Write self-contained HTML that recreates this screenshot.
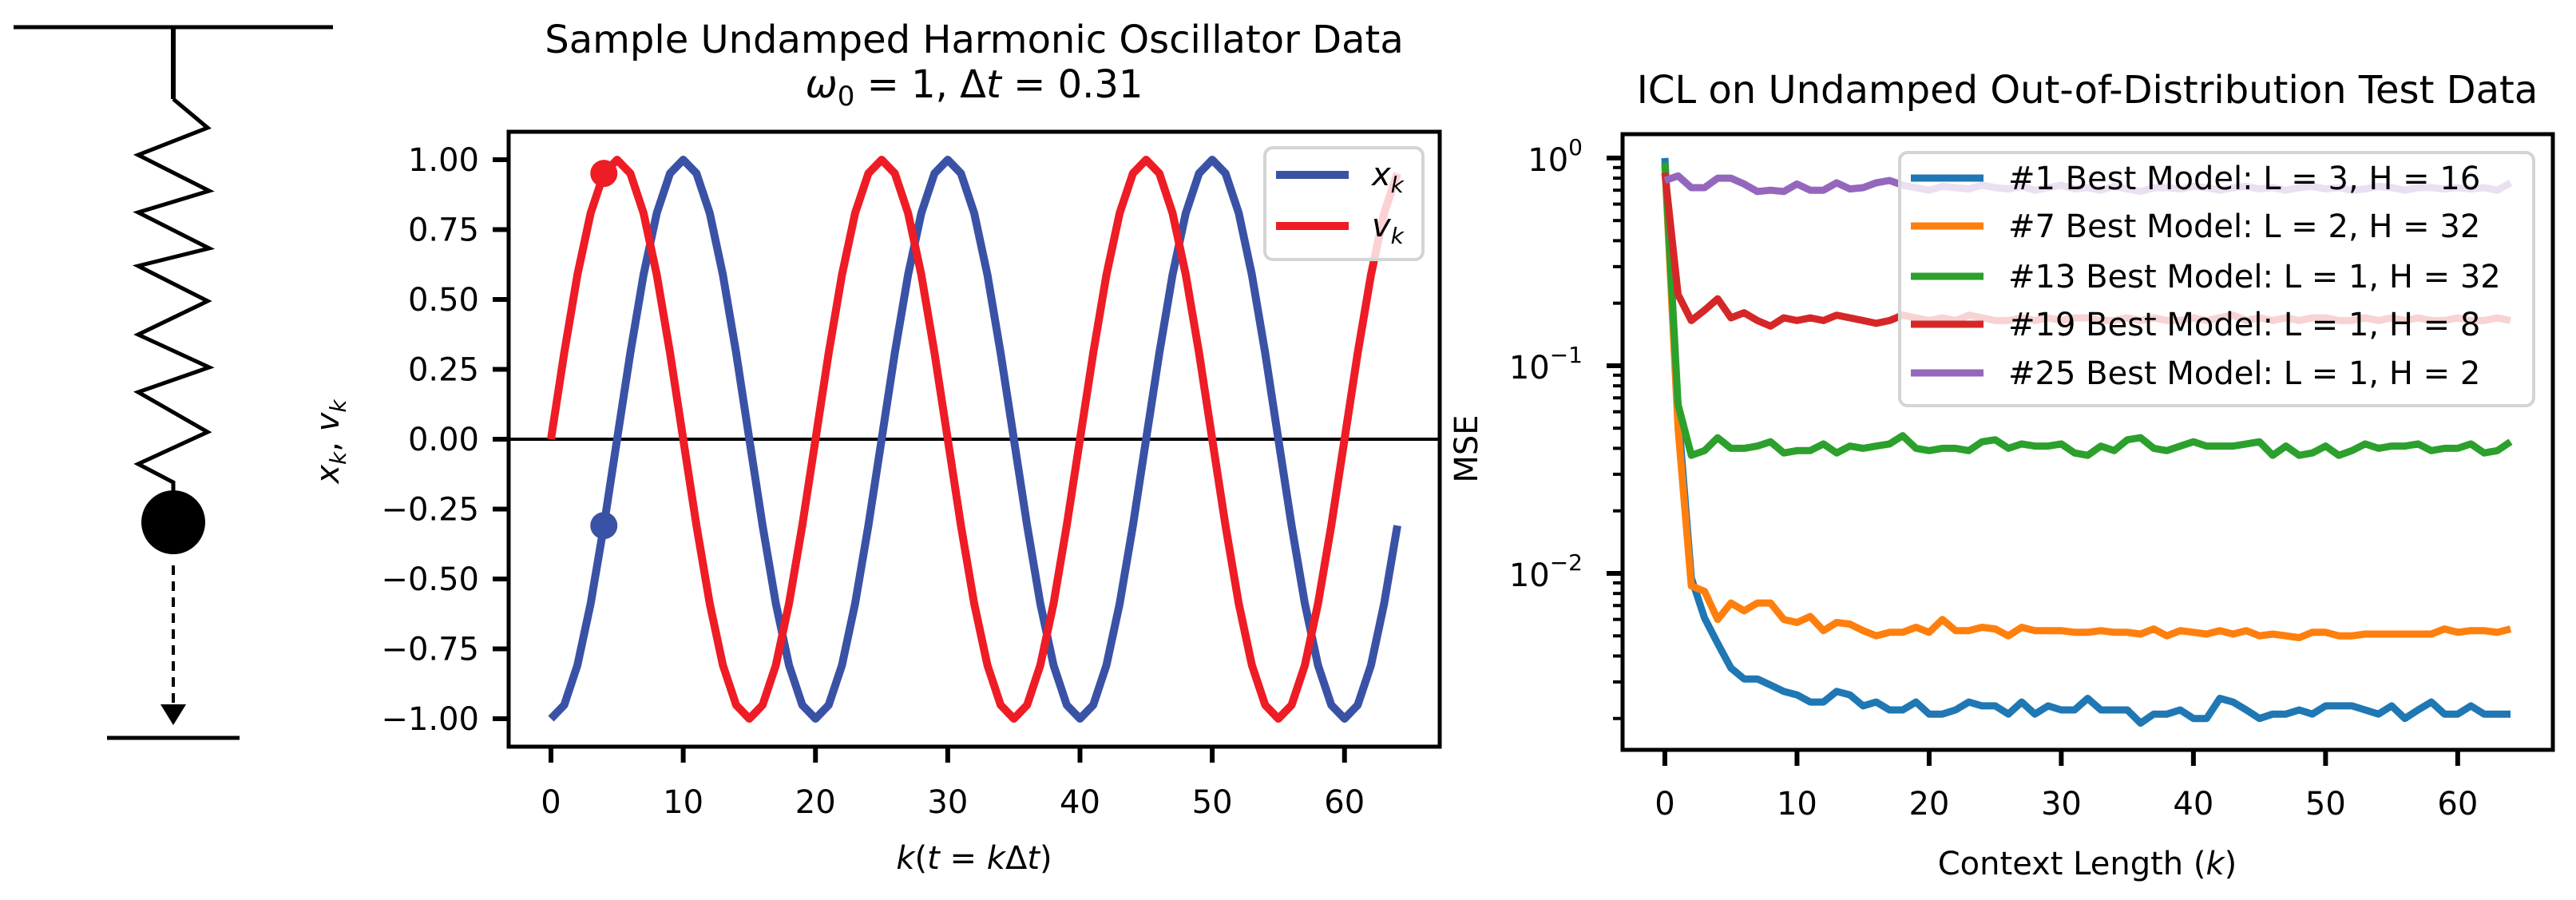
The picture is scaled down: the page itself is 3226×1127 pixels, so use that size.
<!DOCTYPE html>
<html><head><meta charset="utf-8">
<style>
html,body{margin:0;padding:0;background:#fff;}
svg{display:block;font-family:"DejaVu Sans","Liberation Sans",sans-serif;}
</style></head>
<body>
<svg id="fig" xmlns="http://www.w3.org/2000/svg" width="3226" height="1127" viewBox="0 0 3226 1127">
  <g id="diagram" fill="none" stroke="#000">
    <line x1="17" y1="34" x2="417" y2="34" stroke-width="5"/>
    <line x1="217" y1="34" x2="217" y2="124" stroke-width="6"/>
    <polyline stroke-width="5" points="217,124 260,160 173,194 262,239 173,266 262,311 173,333 260,377 173,419 262,460 173,491 260,541 173,581 217,604 217,620"/>
    <circle cx="217" cy="654" r="40" fill="#000" stroke="none"/>
    <line x1="217" y1="708" x2="217" y2="886" stroke-width="4" stroke-dasharray="12,8"/>
    <polygon points="201,882 233,882 217,908" fill="#000" stroke="none"/>
    <line x1="134" y1="924" x2="300" y2="924" stroke-width="5"/>
  </g>
  <g id="mid"></g>
  <g id="right"></g>
</svg>
<script>
// ---- Oscillator data ----
const oscK = [];
for (let i = 0; i <= 64; i++) oscK.push(i);
const oscX = [-1,-0.951,-0.809,-0.588,-0.309,0,0.309,0.588,0.809,0.951,1,0.951,0.809,0.588,0.309,0,-0.309,-0.588,-0.809,-0.951,
 -1,-0.951,-0.809,-0.588,-0.309,0,0.309,0.588,0.809,0.951,1,0.951,0.809,0.588,0.309,0,-0.309,-0.588,-0.809,-0.951,
 -1,-0.951,-0.809,-0.588,-0.309,0,0.309,0.588,0.809,0.951,1,0.951,0.809,0.588,0.309,0,-0.309,-0.588,-0.809,-0.951,
 -1,-0.951,-0.809,-0.588,-0.309];
const oscV = [0,0.309,0.588,0.809,0.951,1,0.951,0.809,0.588,0.309,0,-0.309,-0.588,-0.809,-0.951,-1,-0.951,-0.809,-0.588,-0.309,
 0,0.309,0.588,0.809,0.951,1,0.951,0.809,0.588,0.309,0,-0.309,-0.588,-0.809,-0.951,-1,-0.951,-0.809,-0.588,-0.309,
 0,0.309,0.588,0.809,0.951,1,0.951,0.809,0.588,0.309,0,-0.309,-0.588,-0.809,-0.951,-1,-0.951,-0.809,-0.588,-0.309,
 0,0.309,0.588,0.809,0.951];
const oscMarkK = 4;
const oscXTicks = [0,10,20,30,40,50,60];
const oscYTicks = [-1,-0.75,-0.5,-0.25,0,0.25,0.5,0.75,1];
const oscYTickLabels = ["\u22121.00","\u22120.75","\u22120.50","\u22120.25","0.00","0.25","0.50","0.75","1.00"];

// ---- ICL MSE data ----
const mseBlue = [1.0,0.06,0.0095,0.0061,0.0046,0.0035,0.0031,0.0031,0.0029,0.0027,0.0026,0.0024,0.0024,0.0027,0.0026,0.0023,0.0024,0.0022,0.0022,0.0024,0.0021,0.0021,0.0022,0.0024,0.0023,0.0023,0.0021,0.0024,0.0021,0.0023,0.0022,0.0022,0.0025,0.0022,0.0022,0.0022,0.0019,0.0021,0.0021,0.0022,0.0020,0.0020,0.0025,0.0024,0.0022,0.0020,0.0021,0.0021,0.0022,0.0021,0.0023,0.0023,0.0023,0.0022,0.0021,0.0023,0.0020,0.0022,0.0024,0.0021,0.0021,0.0023,0.0021,0.0021,0.0021];
const mseOrange = [0.93,0.05,0.0087,0.0082,0.0060,0.0072,0.0066,0.0072,0.0072,0.0060,0.0058,0.0062,0.0053,0.0058,0.0057,0.0053,0.0050,0.0052,0.0052,0.0055,0.0052,0.0060,0.0053,0.0053,0.0055,0.0054,0.0050,0.0055,0.0053,0.0053,0.0053,0.0052,0.0052,0.0053,0.0052,0.0052,0.0051,0.0054,0.0050,0.0053,0.0052,0.0051,0.0053,0.0051,0.0053,0.0050,0.0051,0.0050,0.0049,0.0052,0.0052,0.0050,0.0050,0.0051,0.0051,0.0051,0.0051,0.0051,0.0051,0.0054,0.0052,0.0053,0.0053,0.0052,0.0054];
const mseGreen = [0.95,0.065,0.037,0.039,0.045,0.040,0.040,0.041,0.043,0.038,0.039,0.039,0.042,0.038,0.041,0.040,0.041,0.042,0.046,0.040,0.039,0.040,0.040,0.039,0.043,0.044,0.040,0.042,0.041,0.041,0.042,0.038,0.037,0.041,0.039,0.044,0.045,0.040,0.039,0.041,0.043,0.041,0.041,0.041,0.042,0.043,0.037,0.041,0.037,0.038,0.041,0.037,0.039,0.042,0.040,0.041,0.041,0.042,0.039,0.040,0.040,0.042,0.038,0.039,0.043];
const mseRed = [0.85,0.22,0.165,0.185,0.21,0.17,0.18,0.165,0.155,0.17,0.165,0.17,0.165,0.175,0.17,0.165,0.16,0.165,0.175,0.17,0.165,0.17,0.165,0.175,0.17,0.165,0.165,0.17,0.165,0.17,0.165,0.17,0.17,0.165,0.165,0.17,0.165,0.17,0.165,0.165,0.17,0.165,0.17,0.175,0.165,0.17,0.165,0.17,0.165,0.17,0.17,0.165,0.165,0.17,0.165,0.17,0.165,0.17,0.165,0.165,0.17,0.165,0.165,0.17,0.165];
const msePurple = [0.78,0.82,0.72,0.72,0.80,0.80,0.75,0.69,0.70,0.69,0.75,0.70,0.70,0.76,0.71,0.72,0.76,0.78,0.74,0.72,0.70,0.73,0.72,0.71,0.74,0.72,0.71,0.73,0.70,0.72,0.74,0.71,0.72,0.70,0.73,0.71,0.69,0.72,0.72,0.71,0.73,0.72,0.70,0.72,0.73,0.71,0.72,0.70,0.72,0.73,0.71,0.72,0.70,0.71,0.73,0.72,0.70,0.72,0.72,0.71,0.72,0.71,0.72,0.70,0.76];
const mseLabels = ["#1 Best Model: L = 3, H = 16","#7 Best Model: L = 2, H = 32","#13 Best Model: L = 1, H = 32","#19 Best Model: L = 1, H = 8","#25 Best Model: L = 1, H = 2"];
const mseXTicks = [0,10,20,30,40,50,60];
const mseYMajor = [0,-1,-2];
const mseYMajorLabels = ["0","\u22121","\u22122"];

const NS = "http://www.w3.org/2000/svg";
function mk(parent, tag, attrs, text) {
  const e = document.createElementNS(NS, tag);
  for (const k in attrs) e.setAttribute(k, attrs[k]);
  if (text !== undefined) e.textContent = text;
  parent.appendChild(e);
  return e;
}

// ===== Middle chart =====
(function(){
  const g = document.getElementById('mid');
  const L = 637, R = 1803, T = 165, B = 935;
  const x0 = -3.2, x1 = 67.2, y0 = -1.1, y1 = 1.1;
  const sx = v => L + (v - x0) / (x1 - x0) * (R - L);
  const sy = v => B - (v - y0) / (y1 - y0) * (B - T);
  const defs = mk(g, 'defs', {});
  const cp = mk(defs, 'clipPath', {id: 'clipMid'});
  mk(cp, 'rect', {x: L, y: T, width: R - L, height: B - T});

  const t1 = mk(g, 'text', {x: 1220, y: 66, 'font-size': 48, 'text-anchor': 'middle'}, 'Sample Undamped Harmonic Oscillator Data');
  
  
  const t2 = mk(g, 'text', {x: 1220, y: 122, 'font-size': 48, 'text-anchor': 'middle'});
  
  
  t2.innerHTML = '<tspan font-style="italic">ω</tspan><tspan font-size="34" dy="10">0</tspan><tspan dy="-10"> = 1, Δ</tspan><tspan font-style="italic">t</tspan><tspan> = 0.31</tspan>';

  const zl = mk(g, 'line', {x1: L, x2: R, y1: sy(0), y2: sy(0), stroke: '#000', 'stroke-width': 4});
  
  

  const lines = mk(g, 'g', {'clip-path': 'url(#clipMid)'});
  function series(vals, color, name) {
    const pts = vals.map((v, i) => sx(oscK[i]).toFixed(1) + ',' + sy(v).toFixed(1)).join(' ');
    const p = mk(lines, 'polyline', {points: pts, fill: 'none', stroke: color, 'stroke-width': 10, 'stroke-linejoin': 'round'});
    
    
  }
  series(oscX, '#3a52a6', 'x-k-line');
  series(oscV, '#ee1c25', 'v-k-line');
  const d1 = mk(g, 'circle', {cx: sx(oscMarkK), cy: sy(oscX[oscMarkK]), r: 17, fill: '#3a52a6'});
  
  
  const d2 = mk(g, 'circle', {cx: sx(oscMarkK), cy: sy(oscV[oscMarkK]), r: 17, fill: '#ee1c25'});
  
  

  // legend
  const lg = mk(g, 'g', {});
  
  
  mk(lg, 'rect', {x: 1584, y: 185, width: 198, height: 140, rx: 10, fill: 'rgba(255,255,255,0.8)', stroke: '#d4d4d4', 'stroke-width': 4});
  mk(lg, 'line', {x1: 1598, x2: 1689, y1: 219, y2: 219, stroke: '#3a52a6', 'stroke-width': 10});
  mk(lg, 'line', {x1: 1598, x2: 1689, y1: 283, y2: 283, stroke: '#ee1c25', 'stroke-width': 10});
  const lx = mk(lg, 'text', {x: 1718, y: 232, 'font-size': 40});
  lx.innerHTML = '<tspan font-style="italic">x</tspan><tspan font-style="italic" font-size="28" dy="9">k</tspan>';
  const lv = mk(lg, 'text', {x: 1718, y: 296, 'font-size': 40});
  lv.innerHTML = '<tspan font-style="italic">v</tspan><tspan font-style="italic" font-size="28" dy="9">k</tspan>';

  // frame
  const fr = mk(g, 'rect', {x: L, y: T, width: R - L, height: B - T, fill: 'none', stroke: '#000', 'stroke-width': 5});
  
  

  oscXTicks.forEach(v => {
    const x = sx(v);
    const tk = mk(g, 'line', {x1: x, x2: x, y1: B, y2: B + 20, stroke: '#000', 'stroke-width': 6});
    
    
    const tl = mk(g, 'text', {x: x, y: 1018, 'font-size': 40, 'text-anchor': 'middle'}, String(v));
    
    
  });
  oscYTicks.forEach((v, i) => {
    const y = sy(v);
    const tk = mk(g, 'line', {x1: L - 20, x2: L, y1: y, y2: y, stroke: '#000', 'stroke-width': 6});
    
    
    const tl = mk(g, 'text', {x: 600, y: y + 14, 'font-size': 40, 'text-anchor': 'end'}, oscYTickLabels[i]);
    
    
  });
  const xl = mk(g, 'text', {x: 1220, y: 1088, 'font-size': 40, 'text-anchor': 'middle'});
  
  
  xl.innerHTML = '<tspan font-style="italic">k</tspan>(<tspan font-style="italic">t</tspan> = <tspan font-style="italic">k</tspan>Δ<tspan font-style="italic">t</tspan>)';
  const yl = mk(g, 'text', {x: 0, y: 0, 'font-size': 40, 'text-anchor': 'middle', transform: 'translate(424,553) rotate(-90)'});
  
  
  yl.innerHTML = '<tspan font-style="italic">x</tspan><tspan font-style="italic" font-size="28" dy="9">k</tspan><tspan dy="-9">, </tspan><tspan font-style="italic">v</tspan><tspan font-style="italic" font-size="28" dy="9">k</tspan>';
})();

// ===== Right chart =====
(function(){
  const g = document.getElementById('right');
  const L = 2032, R = 3197, T = 168, B = 939;
  const x0 = -3.2, x1 = 67.2, ly0 = -2.85, ly1 = 0.115;
  const sx = v => L + (v - x0) / (x1 - x0) * (R - L);
  const sy = v => B - (Math.log10(v) - ly0) / (ly1 - ly0) * (B - T);
  const syl = lv => B - (lv - ly0) / (ly1 - ly0) * (B - T);
  const defs = mk(g, 'defs', {});
  const cp = mk(defs, 'clipPath', {id: 'clipR'});
  mk(cp, 'rect', {x: L, y: T, width: R - L, height: B - T});

  const tt = mk(g, 'text', {x: 2614, y: 129, 'font-size': 48, 'text-anchor': 'middle'}, 'ICL on Undamped Out-of-Distribution Test Data');
  
  

  const colors = ['#1f77b4', '#ff7f0e', '#2ca02c', '#d62728', '#9467bd'];
  const all = [mseBlue, mseOrange, mseGreen, mseRed, msePurple];
  const names = ['model-1-line', 'model-7-line', 'model-13-line', 'model-19-line', 'model-25-line'];
  const lines = mk(g, 'g', {'clip-path': 'url(#clipR)'});
  all.forEach((vals, s) => {
    const pts = vals.map((v, i) => sx(i).toFixed(1) + ',' + sy(v).toFixed(1)).join(' ');
    const p = mk(lines, 'polyline', {points: pts, fill: 'none', stroke: colors[s], 'stroke-width': 9, 'stroke-linejoin': 'round'});
    
    
  });

  // legend
  const lg = mk(g, 'g', {});
  
  
  mk(lg, 'rect', {x: 2379, y: 191, width: 794, height: 317, rx: 10, fill: 'rgba(255,255,255,0.8)', stroke: '#d4d4d4', 'stroke-width': 4});
  const ly = [223, 283, 346, 406, 467];
  mseLabels.forEach((lab, i) => {
    const ln = mk(lg, 'line', {x1: 2393, x2: 2484, y1: ly[i], y2: ly[i], stroke: colors[i], 'stroke-width': 9});
    
    
    const tx = mk(lg, 'text', {x: 2515, y: ly[i] + 14, 'font-size': 40}, lab);
    
    
  });

  const fr = mk(g, 'rect', {x: L, y: T, width: R - L, height: B - T, fill: 'none', stroke: '#000', 'stroke-width': 5});
  
  

  mseXTicks.forEach(v => {
    const x = sx(v);
    const tk = mk(g, 'line', {x1: x, x2: x, y1: B, y2: B + 20, stroke: '#000', 'stroke-width': 6});
    
    
    const tl = mk(g, 'text', {x: x, y: 1020, 'font-size': 40, 'text-anchor': 'middle'}, String(v));
    
    
  });
  mseYMajor.forEach((e, i) => {
    const y = syl(e);
    const tk = mk(g, 'line', {x1: L - 20, x2: L, y1: y, y2: y, stroke: '#000', 'stroke-width': 6});
    
    
    const tl = mk(g, 'text', {x: 1982, y: y + 16, 'font-size': 40, 'text-anchor': 'end'});
    
    
    tl.innerHTML = '10<tspan font-size="28" dy="-20">' + mseYMajorLabels[i] + '</tspan>';
  });
  for (let e = -3; e <= 0; e++) {
    for (let m = 2; m <= 9; m++) {
      const lv = e + Math.log10(m);
      if (lv < ly0 || lv > ly1) continue;
      const y = syl(lv);
      const tk = mk(g, 'line', {x1: L - 12, x2: L, y1: y, y2: y, stroke: '#000', 'stroke-width': 4});
      
      
    }
  }
  const xl = mk(g, 'text', {x: 2614, y: 1095, 'font-size': 40, 'text-anchor': 'middle'});
  
  
  xl.innerHTML = 'Context Length (<tspan font-style="italic">k</tspan>)';
  const yl = mk(g, 'text', {x: 0, y: 0, 'font-size': 40, 'text-anchor': 'middle', transform: 'translate(1850,562) rotate(-90)'}, 'MSE');
  
  
})();
</script>
</body></html>
